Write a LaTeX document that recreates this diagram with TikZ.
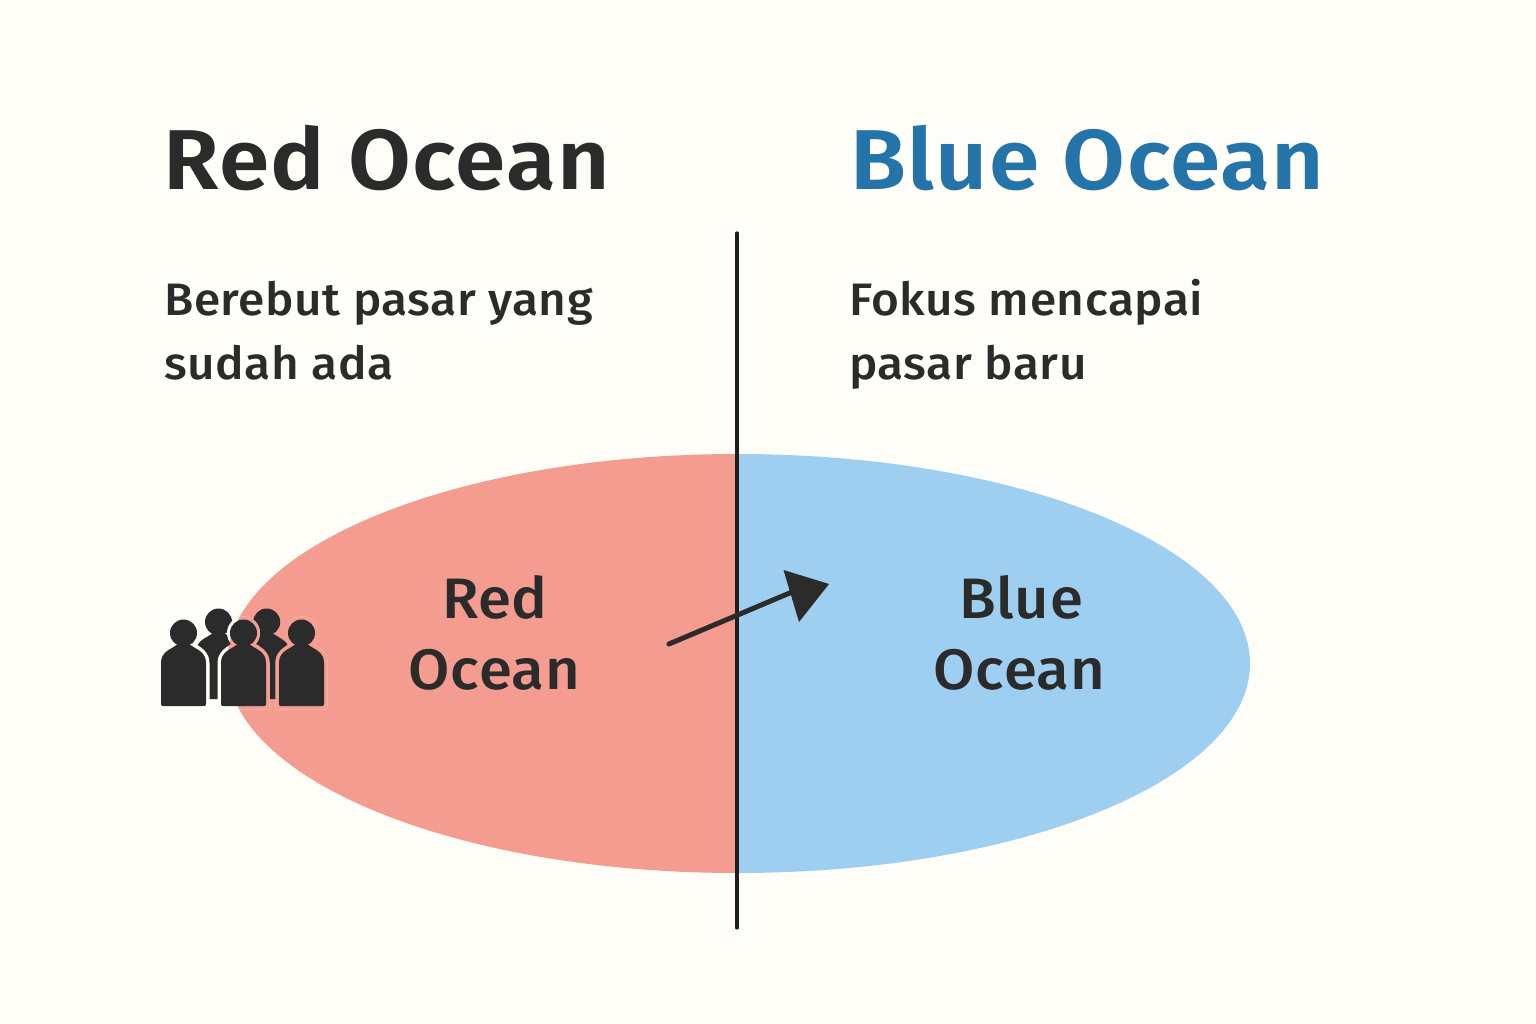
\documentclass[tikz,border=0pt]{standalone}
\usepackage{fontspec}
\setmainfont{Fira Sans Medium}
\newfontfamily\headf{Fira Sans SemiBold}[FakeStretch=1.07,LetterSpace=1.6]
\newfontfamily\subf{Fira Sans Medium}[FakeStretch=1.05,LetterSpace=1.2]
\newfontfamily\labf{Fira Sans Medium}[FakeStretch=1.05,LetterSpace=1.2]
\usetikzlibrary{calc}
\definecolor{bgc}{HTML}{FFFDF8}
\definecolor{redc}{HTML}{F49C90}
\definecolor{bluec}{HTML}{9ECFF0}
\definecolor{inkc}{HTML}{2B2B2B}
\definecolor{titleblue}{HTML}{2574A9}
\definecolor{linec}{HTML}{1E1E1E}
% person: #1 centre x, #2 head centre y, #3 bottom y, #4 grow
\newcommand{\headpath}[3]{(#1,#2) circle[radius={13.5+#3}]}
\newcommand{\bodypath}[4]{%
  ({#1-22.5-#4},{#3-3}) -- ({#1-22.5-#4},{#2+30})
  .. controls ({#1-22.5-#4},{#2+19}) and ({#1-14-#4},{#2+17-#4}) .. ({#1-7},{#2+12-#4})
  -- ({#1+7},{#2+12-#4})
  .. controls ({#1+14+#4},{#2+17-#4}) and ({#1+22.5+#4},{#2+19}) .. ({#1+22.5+#4},{#2+30})
  -- ({#1+22.5+#4},{#3-3})
  .. controls ({#1+22.5+#4},{#3+#4}) and ({#1+22.5+#4},{#3+#4}) .. ({#1+19.5+#4},{#3+#4})
  -- ({#1-19.5-#4},{#3+#4})
  .. controls ({#1-22.5-#4},{#3+#4}) and ({#1-22.5-#4},{#3+#4}) .. ({#1-22.5-#4},{#3-3}) -- cycle}
\newcommand{\oceans}{%
  \fill[bgc] (0,0) rectangle (1536,1024);
  \fill[redc] (737,454) arc[start angle=90,end angle=270,x radius=510,y radius=-209.5] -- cycle;
  \fill[bluec] (737,454) arc[start angle=90,end angle=-90,x radius=513,y radius=-209.5] -- cycle;}
\newcommand{\personfront}[2]{%
  \begin{scope}\clip \headpath{#1}{#2}{3}; \oceans\end{scope}
  \begin{scope}\clip \bodypath{#1}{#2}{706}{3.5}; \oceans\end{scope}
  \fill[inkc] \headpath{#1}{#2}{0};
  \fill[inkc] \bodypath{#1}{#2}{706}{0};}
\tikzset{
  title/.style={anchor=base west,inner sep=0pt,font=\headf\fontsize{85}{85}\selectfont},
  sub/.style={anchor=base west,inner sep=0pt,text=inkc,font=\subf\fontsize{45.5}{46}\selectfont},
  lab/.style={anchor=base,inner sep=0pt,text=inkc,font=\labf\fontsize{57}{57}\selectfont},
  divider/.style={draw=linec,line width=3.2pt,line cap=round},
  shaft/.style={draw=inkc,line width=5pt,line cap=round},
}
\begin{document}
\begin{tikzpicture}[x=1pt,y=-1pt]
\useasboundingbox (0,0) rectangle (1536,1024);
\oceans
% back people
\fill[inkc] \headpath{218.5}{622}{0};
\fill[inkc] \bodypath{218.5}{622}{699}{0};
\fill[inkc] \headpath{266.7}{622}{0};
\fill[inkc] \bodypath{266.7}{622}{699}{0};
% front people
\personfront{183.5}{633}
\personfront{243.5}{633}
\personfront{301.5}{633}
% texts
\node[title,text=inkc] (t1) at (163,190) {Red Ocean};
\node[title,text=titleblue] (t2) at (850,190) {Blue Ocean};
\node[sub] (s1) at (164,316) {Berebut pasar yang};
\node[sub] (s2) at (164,379) {sudah ada};
\node[sub] (s3) at (849,316) {Fokus mencapai};
\node[sub] (s4) at (849,379) {pasar baru};
\node[lab] (l1) at (495,618) {Red};
\node[lab] (l2) at (494.5,689) {Ocean};
\node[lab] (l3) at (1021,618) {Blue};
\node[lab] (l4) at (1019.5,689) {Ocean};
% divider
\coordinate (dtop) at (737,233);
\coordinate (dbot) at (737,928);
\draw[divider] (dtop) -- (dbot);
% arrow
\coordinate (astart) at (669,644);
\coordinate (abase) at (792,592);
\coordinate (atip) at (829,584);
\draw[shaft] (astart) -- (abase);
\fill[inkc] (atip) -- (783.5,570) -- (799,622) -- cycle;
\end{tikzpicture}
\end{document}
